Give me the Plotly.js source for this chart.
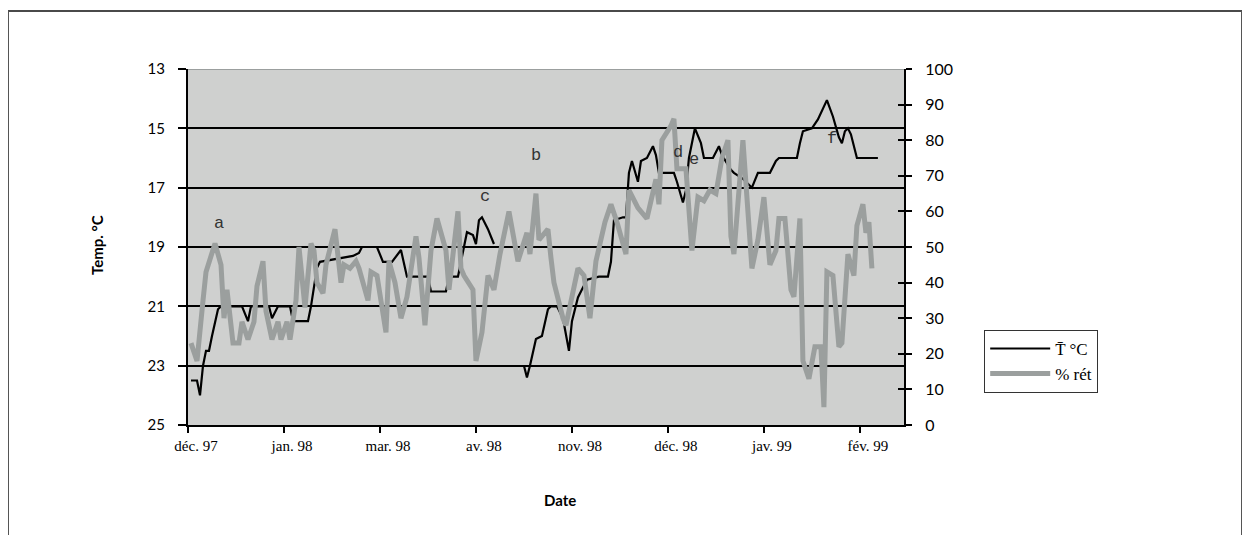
<!DOCTYPE html>
<html>
<head>
<meta charset="utf-8">
<script src="https://cdn.plot.ly/plotly-3.0.1.min.js"></script>
<style>
  html, body { margin: 0; padding: 0; background: #fff; }
  #wrap { position: relative; width: 1250px; height: 535px; overflow: hidden; }
  #chart { position: absolute; left: 0; top: 0; width: 1250px; height: 535px; }
  #frame { position: absolute; left: 8px; top: 10px; width: 1232px; height: 600px;
           border-top: 2px solid #4a4a4a; border-left: 1px solid #555; border-right: 1px solid #555;
           pointer-events: none; }
</style>
</head>
<body>
<div id="wrap">
  <div id="chart"></div>
  <div id="frame"></div>
</div>
<script>
// ---- data (day index along the x axis; 32 days per labelled tick) ----
const tickDays   = [0, 32, 64, 96, 128, 160, 192, 224];
const tickLabels = ['déc. 97', 'jan. 98', 'mar. 98', 'av. 98', 'nov. 98', 'déc. 98', 'jav. 99', 'fév. 99'];

// Mean temperature (°C), left axis (reversed)
const tempDay = [1,3,4,5,6,7,8,10,11,18,20,21,27,28,30,34,35,40,41,43,44,55,57,58,63,65,68,71,73,80,81,86,87,90,92,93,95,96,97,98,100,102,103,
  112,113,114,115,116,118,119,120,121,123,125,126,127,128,130,131,133,137,140,141,142,145,146,147,148,150,151,153,155,156,157,162,163,165,166,167,169,171,172,175,176,177,178,181,182,185,188,190,194,196,197,203,204,205,208,210,213,215,217,218,219,220,221,223,230];
const tempVal = [23.5,23.5,24.0,23.0,22.5,22.5,22.0,21.1,21.0,21.0,21.5,21.0,21.0,21.4,21.0,21.0,21.5,21.5,21.0,19.7,19.5,19.3,19.2,19.0,19.0,19.5,19.5,19.1,20.0,20.0,20.5,20.5,20.0,20.0,19.0,18.5,18.6,18.9,18.1,18.0,18.4,18.9,null,
  23.0,23.4,23.0,22.6,22.1,22.0,21.6,21.1,21.0,21.0,21.4,21.9,22.5,21.5,20.7,20.5,20.1,20.0,20.0,19.5,18.1,18.0,18.0,16.5,16.1,16.8,16.1,16.0,15.6,15.9,16.5,16.5,16.8,17.5,17.1,16.0,15.0,15.5,16.0,16.0,15.8,15.6,15.9,16.4,16.5,16.7,17.0,16.5,16.5,16.1,16.0,16.0,15.5,15.1,15.0,14.7,14.05,14.6,15.3,15.5,15.1,15.0,15.2,16.0,16.0];

// % rét, right axis
const retDay = [1,3,5,6,9,11,12,13,15,17,18,20,22,23,25,26,28,30,31,33,34,36,37,39,41,42,43,45,46,49,51,52,54,56,57,60,61,63,66,67,69,71,73,76,77,79,81,83,86,87,
  90,91,92,95,96,98,100,102,104,107,110,113,114,116,117,120,121,122,125,126,128,130,132,134,136,139,141,143,146,147,150,153,156,157,158,161,162,163,166,168,
  170,172,174,176,178,180,181,182,185,186,188,190,192,194,196,197,199,201,202,204,205,207,209,211,212,213,215,217,218,220,222,223,225,226,227,228];
const retVal = [23,18,35,43,51,45,30,38,23,23,29,24,29,39,46,32,24,29,24,29,24,35,50,33,51,49,40,37,45,55,40,45,44,46,44,35,43,42,26,46,40,30,36,53,47,28,49,58,49,38,
  60,44,42,38,18,26,42,38,48,60,46,54,48,65,52,55,47,40,30,28,36,44,42,30,46,57,62,57,48,66,61,58,69,62,80,84,86,72,72,49,
  64,63,66,65,75,80,53,48,80,69,44,52,64,45,49,58,58,38,36,58,18,13,22,22,5,43,42,22,23,48,42,56,62,54,57,44];

const leftTicks  = [13, 15, 17, 19, 21, 23, 25];
const rightTicks = [0, 10, 20, 30, 40, 50, 60, 70, 80, 90, 100];

// marker letters
const markText = ['a', 'b', 'c', 'd', 'e', 'f'];
const markDay  = [10.3, 116, 99, 163.3, 168.7, 214.7];
const markTemp = [18.2, 15.9, 17.3, 15.8, 16.05, 15.35];

const MONO  = "'Liberation Mono', 'Courier New', monospace";
const SERIF = "'Liberation Serif', 'Times New Roman', serif";
const SANS  = "Lato, sans-serif";

const traces = [
  { x: tempDay, y: tempVal, type: 'scatter', mode: 'lines', name: 'T\u0304 °C',
    line: { color: '#000000', width: 2.2 }, yaxis: 'y', connectgaps: false },
  { x: retDay, y: retVal, type: 'scatter', mode: 'lines', name: '% rét',
    line: { color: '#9b9f9e', width: 5 }, yaxis: 'y2' },
  // carrier for the inner half of the right-axis ticks (invisible)
  { x: retDay, y: retVal, type: 'scatter', mode: 'lines', showlegend: false, hoverinfo: 'skip',
    line: { color: 'rgba(0,0,0,0)', width: 0 }, yaxis: 'y3' }
];

const annotations = markText.map((t, i) => ({
  x: markDay[i], y: markTemp[i], xref: 'x', yref: 'y', text: t, showarrow: false,
  font: { family: MONO, size: 17, color: '#333' }
}));
annotations.push({
  text: '<b>Temp. °C</b>', xref: 'paper', yref: 'paper', x: -0.127, y: 0.506,
  xanchor: 'center', yanchor: 'middle',
  textangle: -90, showarrow: false, font: { family: SANS, size: 15, color: '#000' }
});
annotations.push({
  text: '<b>Date</b>', xref: 'paper', yref: 'paper', x: 0.52, y: -0.211,
  xanchor: 'center', yanchor: 'middle',
  showarrow: false, font: { family: SANS, size: 15, color: '#000' }
});

const layout = {
  width: 1250, height: 535,
  margin: { l: 188, r: 346, t: 69, b: 110, pad: 0 },
  paper_bgcolor: 'rgba(0,0,0,0)',
  plot_bgcolor: '#cfd0cf',
  font: { family: SERIF },
  showlegend: true,
  legend: {
    x: 1.112, y: 0.267, xanchor: 'left', yanchor: 'top',
    bgcolor: '#ffffff', bordercolor: '#333', borderwidth: 1,
    font: { family: SERIF, size: 17, color: '#000' },
    tracegroupgap: 0, itemwidth: 60
  },
  xaxis: {
    range: [0, 238.7], tickmode: 'array', tickvals: tickDays, ticktext: tickLabels,
    showgrid: false, zeroline: false, showline: true, linecolor: '#000', linewidth: 2,
    ticks: 'outside', ticklen: 6, tickwidth: 2, tickcolor: '#000',
    ticklabelshift: 8, ticklabelstandoff: 0,
    tickfont: { family: SERIF, size: 15, color: '#000' }
  },
  yaxis: {
    range: [25, 13], tickmode: 'array', tickvals: leftTicks,
    showgrid: true, gridcolor: '#000', gridwidth: 2, zeroline: false,
    showline: true, linecolor: '#000', linewidth: 2,
    ticks: 'outside', ticklen: 8, tickwidth: 2, tickcolor: '#000',
    ticklabelstandoff: 10,
    tickfont: { family: SANS, size: 15, color: '#000' }
  },
  yaxis2: {
    range: [0, 100], overlaying: 'y', side: 'right', tickmode: 'array', tickvals: rightTicks,
    showgrid: false, zeroline: false, showline: true, linecolor: '#000', linewidth: 2,
    ticks: 'outside', ticklen: 6, tickwidth: 2, tickcolor: '#000',
    ticklabelstandoff: 10,
    tickfont: { family: SANS, size: 16, color: '#000' }
  },
  yaxis3: {
    range: [0, 100], overlaying: 'y', side: 'right', tickmode: 'array', tickvals: rightTicks,
    showgrid: false, zeroline: false, showline: false, showticklabels: false,
    ticks: 'inside', ticklen: 6, tickwidth: 2, tickcolor: '#000'
  },
  shapes: [
    { type: 'line', xref: 'paper', yref: 'y', x0: 0, x1: 1, y0: 13, y1: 13,
      line: { color: '#9b9f9e', width: 2 }, layer: 'above' }
  ],
  annotations: annotations
};

Plotly.newPlot('chart', traces, layout, { staticPlot: true, displayModeBar: false });
</script>
</body>
</html>
